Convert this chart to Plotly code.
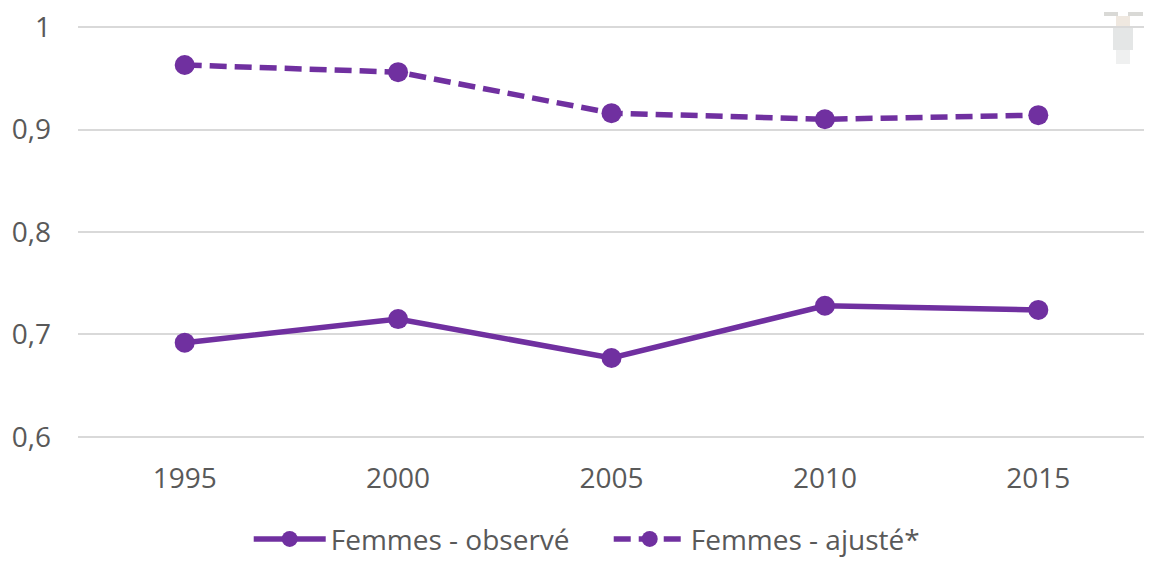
import plotly.graph_objects as go

years = ["1995", "2000", "2005", "2010", "2015"]
observe = [0.692, 0.715, 0.677, 0.728, 0.724]
ajuste = [0.963, 0.956, 0.916, 0.910, 0.914]
yticks = [0.6, 0.7, 0.8, 0.9, 1.0]
yticklabels = ["0,6", "0,7", "0,8", "0,9", "1"]
purple = "#7030A0"
text_color = "#595959"

# Cropped logo fragment in the top-right corner: (left, right, top, bottom) in page pixels, colour
logo_bits = [
    (1105, 1122, 0, 4, "#3A3230"),
    (1126, 1142, 0, 4, "#3A3230"),
    (1104, 1118, 12, 16, "#D9D9D6"),
    (1128, 1143, 12, 16, "#D9D9D6"),
    (1116, 1130, 16, 27, "#EFE8E0"),
    (1113, 1133, 27, 50, "#E4E6E6"),
    (1116, 1130, 50, 64, "#EFF0F0"),
]

fig = go.Figure()
fig.add_trace(go.Scatter(x=years, y=observe, name="Femmes - observé", mode="lines+markers",
                         line=dict(color=purple, width=5.5), marker=dict(size=20, color=purple)))
fig.add_trace(go.Scatter(x=years, y=ajuste, name="Femmes - ajusté*", mode="lines+markers",
                         line=dict(color=purple, width=5.5, dash="17px,8px"), marker=dict(size=20, color=purple)))
for left, right, top, bottom, color in logo_bits:
    fig.add_shape(type="rect", xref="paper", yref="paper", layer="below", line_width=0, fillcolor=color,
                  x0=(left - 78) / 1067, x1=(right - 78) / 1067,
                  y0=(439 - bottom) / 414, y1=(439 - top) / 414)
fig.update_layout(
    width=1144, height=575, autosize=False,
    margin=dict(l=70, r=7, t=17, b=144),
    paper_bgcolor="white", plot_bgcolor="rgba(0,0,0,0)",
    font=dict(family="Open Sans, Noto Sans, sans-serif", size=28, color=text_color),
    showlegend=True,
    legend=dict(orientation="h", x=0.16, xanchor="left", y=-0.242, yanchor="middle",
                font=dict(size=28, color=text_color), itemwidth=72, entrywidth=273),
    xaxis=dict(type="category", range=[-0.5, 4.5], showgrid=False, showline=False, ticks="",
               ticklabelstandoff=20, automargin=False),
    yaxis=dict(range=[0.598, 1.002], tickvals=yticks, ticktext=yticklabels, gridcolor="#D9D9D9",
               gridwidth=1.5, zeroline=False, showline=False, ticks="",
               ticklabelstandoff=26, automargin=False, ticklabeloverflow="allow"),
)
fig.write_html("out.html", post_script="document.body.style.overflow='hidden';")
